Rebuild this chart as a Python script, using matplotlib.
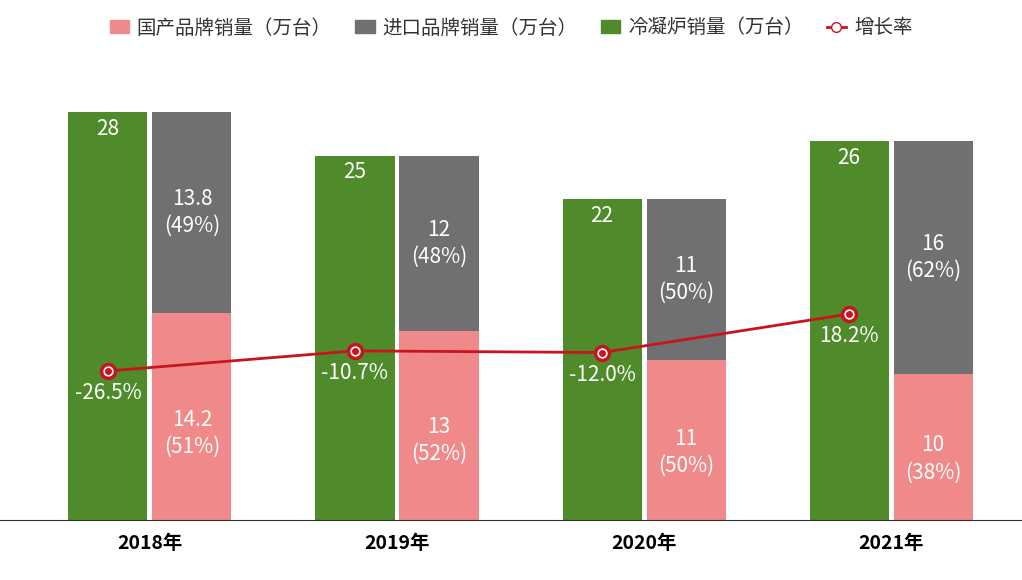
import matplotlib.pyplot as plt
import numpy as np
from matplotlib.lines import Line2D
from matplotlib.patches import Patch

plt.rcParams["font.family"] = ["Noto Sans CJK JP", "Noto Sans CJK SC", "Noto Sans CJK TC",
                               "Noto Sans CJK KR", "DejaVu Sans"]
plt.rcParams["axes.unicode_minus"] = False

years = ["2018年", "2019年", "2020年", "2021年"]
domestic = [14.2, 13, 11, 10]
domestic_pct = ["51%", "52%", "50%", "38%"]
imported = [13.8, 12, 11, 16]
imported_pct = ["49%", "48%", "50%", "62%"]
condensing = [28, 25, 22, 26]
growth = [-26.5, -10.7, -12.0, 18.2]

green = "#4f8a2b"
gray = "#707073"
pink = "#f08a8a"
red = "#c8141e"

fig = plt.figure(figsize=(10.22, 5.8), dpi=100)
ax = fig.add_axes([0, 0.1034, 1, 0.7414])
x = np.arange(len(years))
w = 0.32
xg = x - 0.17
xs = x + 0.17
ax.bar(xg, condensing, w, color=green)
ax.bar(xs, domestic, w, color=pink)
ax.bar(xs, imported, w, bottom=domestic, color=gray)
ax.set_xlim(-0.607, 3.53)
ax.set_ylim(0, 29.5)
for s in ["top", "left", "right"]:
    ax.spines[s].set_visible(False)
ax.spines["bottom"].set_color("#333333")
ax.set_yticks([])
ax.set_xticks(x)
ax.set_xticklabels(years, fontsize=14, fontweight="bold")
ax.tick_params(axis="x", length=0, pad=10)

for i in range(len(years)):
    ax.text(xg[i], condensing[i] - 0.4, f"{condensing[i]:g}", ha="center", va="top",
            color="white", fontsize=15)
    ax.text(xs[i], domestic[i] + imported[i] / 2, f"{imported[i]:g}\n({imported_pct[i]})",
            ha="center", va="center", color="white", fontsize=15, linespacing=1.3)
    ax.text(xs[i], domestic[i] * 0.42, f"{domestic[i]:g}\n({domestic_pct[i]})",
            ha="center", va="center", color="white", fontsize=15, linespacing=1.3)

ax2 = ax.twinx()
ax2.set_ylim(-143.4, 193.9)
ax2.axis("off")
ax2.plot(xg, growth, color=red, lw=2, marker="o", ms=10, mfc="white", mec=red, mew=2.5)
ax2.plot(xg, growth, ls="none", marker="o", ms=4, color=red)
for i, g in enumerate(growth):
    ax2.text(xg[i], g - 9, f"{g:.1f}%", ha="center", va="top",
             color="white", fontsize=15)

handles = [Patch(color=pink), Patch(color=gray), Patch(color=green),
           Line2D([], [], color=red, lw=2, marker="o", mfc="white", mec=red, ms=7)]
labels = ["国产品牌销量（万台）", "进口品牌销量（万台）", "冷凝炉销量（万台）", "增长率"]
fig.legend(handles, labels, loc="upper center", bbox_to_anchor=(0.5, 1.0), ncol=4,
           frameon=False, fontsize=14, handlelength=1.0, handleheight=0.7,
           columnspacing=1.2, handletextpad=0.4, labelcolor="#333333")

fig.savefig("out.png", dpi=100)
